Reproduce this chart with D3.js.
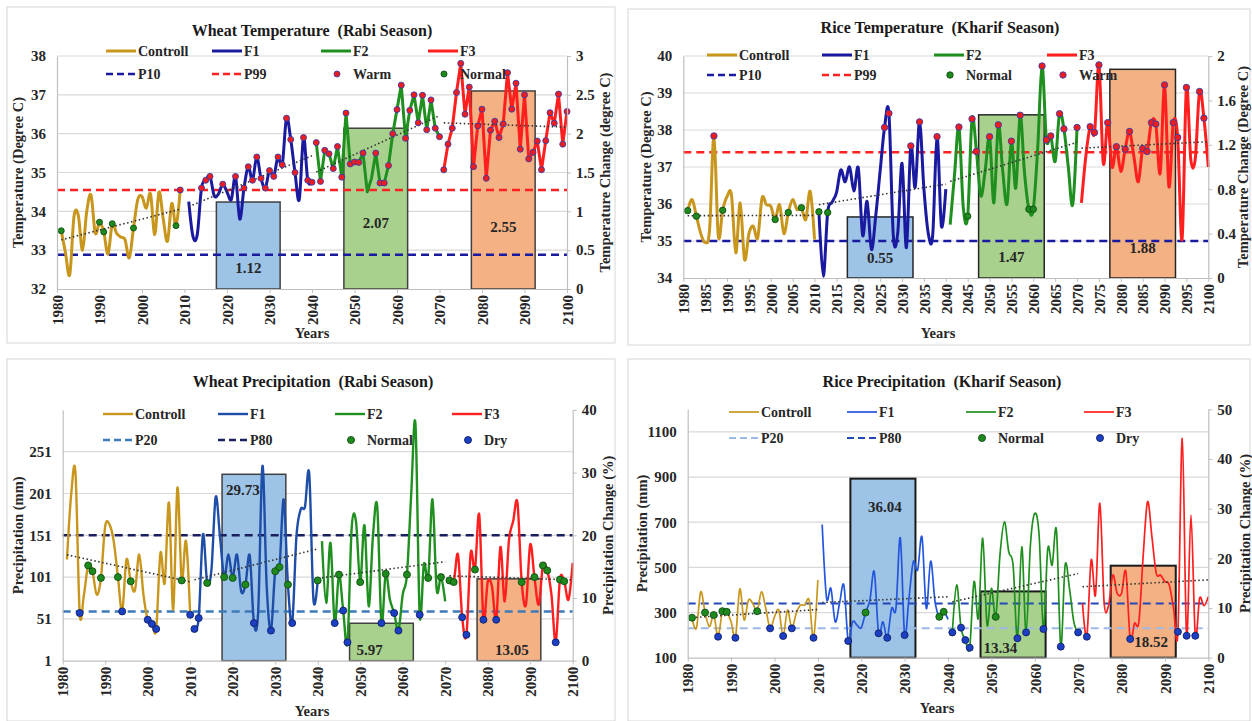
<!DOCTYPE html>
<html>
<head>
<meta charset="utf-8">
<script src="https://cdn.jsdelivr.net/npm/d3@7"></script>
<style>
  body { margin: 0; background: #fff; }
  svg { font-family: "Liberation Serif", "Times New Roman", serif; font-weight: bold; }
</style>
</head>
<body>
<svg id="chart" width="1252" height="721"></svg>
<script>
// ---- shared ----
const periodStart = [1981, 2011, 2041, 2071];
const seriesNames = ["Controll", "F1", "F2", "F3"];
const barPeriods = [[2018, 2032], [2048, 2062], [2078, 2092]];

// ---- wheat temperature (Rabi) ----
const wtControll = [33.5, 32.93, 32.37, 33.87, 33.9, 33.0, 34.0, 34.42, 33.44, 33.72, 33.47, 32.9, 33.68, 33.44, 33.34, 33.27, 32.8, 33.57, 34.3, 34.38, 34.08, 34.45, 33.4, 34.5, 33.8, 33.23, 34.2, 33.63, 34.55];
const wtF1 = [34.25, 33.35, 33.4, 34.6, 34.8, 34.9, 34.4, 34.45, 34.7, 34.5, 34.3, 34.9, 33.8, 34.6, 35.15, 34.8, 35.4, 34.85, 34.6, 35.05, 34.9, 35.4, 35.2, 36.4, 35.85, 35.0, 34.3, 35.9, 34.8, 34.75];
const wtF2 = [35.77, 34.77, 35.57, 35.48, 35.1, 35.67, 34.88, 36.53, 35.22, 35.27, 35.26, 35.5, 34.5, 34.85, 35.5, 34.73, 34.73, 35.18, 36.0, 36.62, 37.25, 35.88, 36.6, 37.0, 36.28, 36.99, 36.1, 36.87, 36.14, 35.92];
const wtF3 = [35.07, 35.73, 36.14, 37.06, 37.81, 36.5, 37.2, 35.15, 36.2, 36.63, 34.85, 36.09, 36.32, 35.9, 36.25, 37.57, 36.63, 37.3, 35.6, 37.0, 35.35, 35.52, 35.81, 35.07, 35.82, 36.54, 36.27, 37.02, 35.73, 36.57];
const wtThresholds = [32.88, 34.55];          // P10, P99
const wtChange = [1.12, 2.07, 2.55];
const wtNormalYears = [1981, 1990, 1991, 1993, 1998, 2008];
const wtWarmYears = [2009, 2014, 2015, 2016, 2019, 2022, 2024, 2025, 2026, 2027, 2028, 2029, 2030, 2031, 2032, 2033, 2034, 2035, 2036, 2038, 2039, 2040]
  .concat(d3.range(2041, 2053), d3.range(2055, 2071), d3.range(2071, 2101));

// ---- rice temperature (Kharif) ----
const rtControll = [35.82, 36.12, 35.67, 35.2, 34.96, 35.3, 37.84, 35.13, 35.83, 36.2, 36.25, 34.68, 36.03, 34.5, 35.2, 35.4, 35.08, 36.16, 35.98, 35.94, 35.58, 35.98, 35.2, 35.77, 36.12, 35.85, 35.9, 35.58, 36.34, 35.04];
const rtF1 = [35.79, 34.05, 35.77, 36.05, 36.3, 36.92, 36.6, 37.0, 36.35, 36.97, 35.15, 36.07, 34.77, 35.7, 36.9, 38.07, 38.45, 35.15, 35.2, 37.1, 34.82, 37.57, 36.45, 38.22, 36.4, 35.2, 35.15, 37.82, 35.4, 36.4];
const rtF2 = [35.44, 36.8, 38.08, 35.9, 35.67, 38.3, 37.42, 36.22, 36.9, 37.82, 36.03, 38.14, 36.9, 36.0, 37.7, 36.43, 38.4, 36.83, 35.86, 35.86, 37.5, 39.73, 37.73, 37.84, 37.15, 38.44, 38.03, 37.0, 35.98, 38.07];
const rtF3 = [36.03, 37.28, 38.09, 37.93, 39.76, 37.1, 38.2, 37.0, 37.55, 36.88, 37.48, 37.96, 37.28, 36.6, 37.5, 37.42, 38.2, 38.16, 36.83, 39.22, 36.47, 38.2, 37.8, 35.04, 39.15, 37.2, 37.2, 39.04, 38.32, 37.0];
const rtThresholds = [35.0, 37.4];            // P10, P99
const rtChange = [0.55, 1.47, 1.88];
const rtNormalYears = [1981, 1983, 1989, 2001, 2004, 2007, 2011, 2013, 2045, 2059, 2060];
const rtWarmYears = [1987, 2026, 2027, 2032, 2034, 2038, 2043, 2046, 2047, 2050, 2052, 2055, 2057, 2062, 2063, 2064, 2066, 2067, 2070,
  2073, 2074, 2075, 2077, 2079, 2081, 2082, 2085, 2086, 2087, 2088, 2090, 2092, 2093, 2095, 2098, 2099];

// ---- wheat precipitation (Rabi) ----
const wpControll = [122, 200, 226, 58, 80, 115, 108, 80, 100, 162, 164, 144, 101, 60, 122, 96, 85, 128, 80, 50, 45, 39, 130, 94, 190, 62, 208, 97, 144, 56];
const wpF1 = [39, 52, 152, 94, 110, 197, 150, 101, 128, 100, 128, 84, 92, 127, 46, 60, 234, 90, 37, 108, 113, 194, 92, 46, 150, 182, 185, 225, 74, 97];
const wpF2 = [144, 70, 142, 46, 104, 61, 23, 160, 168, 95, 163, 66, 150, 186, 46, 105, 74, 58, 37, 80, 104, 200, 284, 56, 117, 100, 194, 86, 101, 72];
const wpF3 = [97, 95, 128, 53, 32, 130, 110, 176, 50, 95, 90, 50, 137, 72, 145, 168, 190, 95, 68, 140, 101, 68, 115, 109, 80, 23, 98, 96, 74, 118];
const wpThresholds = [60, 151];               // P20, P80
const wpChange = [29.73, 5.97, 13.05];
const wpNormalYears = [1986, 1987, 1989, 1993, 1996, 2008, 2014, 2018, 2020, 2023, 2030, 2031, 2033, 2040, 2045, 2050, 2056, 2061, 2066, 2069,
  2071, 2072, 2077, 2088, 2091, 2093, 2094, 2097, 2098];
const wpDryYears = [1984, 1994, 2000, 2001, 2002, 2010, 2011, 2012, 2025, 2029, 2034, 2044, 2046, 2047, 2055, 2058, 2059, 2064,
  2074, 2075, 2079, 2082, 2096];

// ---- rice precipitation (Kharif) ----
const rpControll = [277, 230, 392, 300, 237, 289, 193, 306, 303, 259, 188, 404, 267, 355, 340, 306, 392, 318, 230, 281, 311, 196, 311, 230, 296, 333, 333, 355, 188, 444];
const rpF1 = [690, 365, 407, 259, 340, 421, 174, 259, 245, 233, 300, 355, 481, 208, 259, 188, 318, 318, 631, 200, 363, 525, 488, 635, 318, 528, 351, 281, 303, 270];
const rpF2 = [212, 422, 233, 178, 144, 437, 274, 629, 245, 407, 281, 560, 702, 569, 510, 186, 591, 212, 600, 739, 643, 227, 584, 510, 665, 149, 510, 407, 259, 212];
const rpF3 = [341, 193, 533, 378, 784, 341, 330, 466, 385, 385, 481, 183, 252, 259, 555, 791, 636, 474, 466, 437, 422, 318, 215, 1071, 197, 732, 197, 363, 330, 370];
const rpThresholds = [230, 340];              // P20, P80
const rpChange = [36.04, 13.34, 18.52];
const rpNormalYears = [1981, 1984, 1986, 1988, 1989, 1996, 2021, 2038, 2039, 2051];
const rpDryYears = [1987, 1991, 1999, 2002, 2004, 2009, 2017, 2024, 2026, 2030, 2041, 2043, 2044, 2045, 2056, 2058, 2062, 2066, 2070,
  2072, 2082, 2093, 2095, 2097];

// ---- styles ----
const barColors = ["#9dc3e6", "#a9d18e", "#f4b183"];
const dotStyle = {
  Warm: { fill: "#f01c1c", stroke: "#3a3aa8" },
  Normal: { fill: "#1e8a1e", stroke: "#104d10" },
  Dry: { fill: "#1c3fc4", stroke: "#0e1f66" }
};
const smooth = d3.curveCardinal.tension(0);

const svg = d3.select("#chart");

function drawPanel(p) {
  const g = svg.append("g");
  g.append("rect")
    .attr("x", p.frame[0]).attr("y", p.frame[1])
    .attr("width", p.frame[2]).attr("height", p.frame[3])
    .attr("fill", "#fff").attr("stroke", "#d6d6d6");

  const x = d3.scaleLinear().domain([1980, 2100]).range([p.x0, p.x1]);
  const y = d3.scaleLinear().domain(p.yDomain).range([p.y1, p.y0]);
  const y2 = d3.scaleLinear().domain(p.y2Domain).range([p.y1, p.y0]);

  // gridlines
  g.append("g").selectAll("line")
    .data(p.yTicks.filter(t => t !== p.yDomain[0]))
    .join("line")
    .attr("x1", p.x0).attr("x2", p.x1)
    .attr("y1", d => y(d)).attr("y2", d => y(d))
    .attr("stroke", "#d9d9d9").attr("stroke-width", 1.2);

  // change bars (right axis)
  g.append("g").selectAll("rect")
    .data(p.change)
    .join("rect")
    .attr("x", (d, i) => x(barPeriods[i][0] - 0.5))
    .attr("width", (d, i) => x(barPeriods[i][1] + 0.5) - x(barPeriods[i][0] - 0.5))
    .attr("y", d => y2(d))
    .attr("height", d => y2(p.y2Domain[0]) - y2(d))
    .attr("fill", (d, i) => barColors[i])
    .attr("stroke", p.barStroke).attr("stroke-width", p.barStrokeWidth);

  g.append("g").selectAll("text")
    .data(p.change)
    .join("text")
    .attr("x", (d, i) => p.barLabelAnchor[i] === "start"
      ? x(barPeriods[i][0] - 0.5) + p.barLabelDx[i]
      : (x(barPeriods[i][0] - 0.5) + x(barPeriods[i][1] + 0.5)) / 2 + p.barLabelDx[i])
    .attr("y", (d, i) => y2(p.barLabelAt[i]))
    .attr("dy", "0.35em")
    .attr("text-anchor", (d, i) => p.barLabelAnchor[i])
    .attr("font-size", 15).attr("fill", "#262626")
    .text(d => d.toFixed(2));

  // threshold lines
  g.append("g").selectAll("line")
    .data(p.thresholds)
    .join("line")
    .attr("x1", p.x0).attr("x2", p.x1)
    .attr("y1", d => y(d)).attr("y2", d => y(d))
    .attr("stroke", (d, i) => p.thresholdColors[i])
    .attr("stroke-width", p.dashWidth)
    .attr("stroke-dasharray", "8,5");

  // series lines
  const series = p.series.map((vals, i) => vals.map((v, k) => ({ year: periodStart[i] + k, v })));
  series.forEach((s, i) => {
    const line = d3.line()
      .x(d => x(d.year))
      .y(d => y(d.v))
      .curve(p.curves[i]);
    g.append("path")
      .datum(s)
      .attr("fill", "none")
      .attr("stroke", p.colors[i])
      .attr("stroke-width", p.lineWidth)
      .attr("stroke-linejoin", "round")
      .attr("d", line);
  });

  // linear trend per period
  series.forEach(s => {
    const n = s.length;
    const mx = d3.mean(s, d => d.year), my = d3.mean(s, d => d.v);
    const b = d3.sum(s, d => (d.year - mx) * (d.v - my)) / d3.sum(s, d => (d.year - mx) ** 2);
    const a = my - b * mx;
    const ends = [s[0].year, s[n - 1].year];
    g.append("line")
      .attr("x1", x(ends[0])).attr("x2", x(ends[1]))
      .attr("y1", y(a + b * ends[0])).attr("y2", y(a + b * ends[1]))
      .attr("stroke", "#333").attr("stroke-width", 1.6)
      .attr("stroke-dasharray", "1.5,2.5");
  });

  // classified points
  const lookup = new Map();
  series.forEach(s => s.forEach(d => lookup.set(d.year, d.v)));
  p.dots.forEach(dd => {
    g.append("g").selectAll("circle")
      .data(dd.years.filter(yr => lookup.has(yr)))
      .join("circle")
      .attr("cx", yr => x(yr))
      .attr("cy", yr => y(lookup.get(yr)))
      .attr("r", p.dotR)
      .attr("fill", dotStyle[dd.type].fill)
      .attr("stroke", dotStyle[dd.type].stroke)
      .attr("stroke-width", 0.9);
  });

  // axes
  const axisColor = "#bfbfbf";
  const ax = g.append("g")
    .attr("transform", `translate(0,${p.y1})`)
    .call(d3.axisBottom(x).tickValues(p.xTicks).tickSize(4).tickSizeOuter(0).tickFormat(d => String(d)));
  ax.selectAll(".tick text")
    .attr("transform", "rotate(-90)")
    .attr("text-anchor", "end")
    .attr("x", -6).attr("y", 0).attr("dy", "0.35em");

  const ay = g.append("g")
    .attr("transform", `translate(${p.x0},0)`)
    .call(d3.axisLeft(y).tickValues(p.yTicks).tickSize(0).tickSizeOuter(0).tickPadding(11).tickFormat(d => String(d)));

  const ay2 = g.append("g")
    .attr("transform", `translate(${p.x1},0)`)
    .call(d3.axisRight(y2).tickValues(p.y2Ticks).tickSize(4).tickSizeOuter(0).tickPadding(5).tickFormat(d => String(d)));

  [ax, ay, ay2].forEach(a => {
    a.select(".domain").attr("stroke", axisColor).attr("stroke-width", 1.2);
    a.selectAll(".tick line").attr("stroke", axisColor);
    a.selectAll("text")
      .attr("font-family", "Liberation Serif, Times New Roman, serif")
      .attr("font-weight", "bold")
      .attr("font-size", 15).attr("fill", "#262626");
  });

  // titles
  g.append("text")
    .attr("x", p.title[1]).attr("y", p.title[2])
    .attr("text-anchor", "middle").attr("font-size", 16).attr("fill", "#1a1a1a")
    .text(p.title[0]);
  const midY = (p.y0 + p.y1) / 2;
  g.append("text")
    .attr("transform", `translate(${p.yTitleX},${midY}) rotate(-90)`)
    .attr("text-anchor", "middle").attr("dy", "0.35em")
    .attr("font-size", 14.5).attr("fill", "#262626")
    .text(p.yTitle);
  g.append("text")
    .attr("transform", `translate(${p.y2TitleX},${midY}) rotate(-90)`)
    .attr("text-anchor", "middle").attr("dy", "0.35em")
    .attr("font-size", 14.5).attr("fill", "#262626")
    .text(p.y2Title);
  g.append("text")
    .attr("x", p.xTitle[0]).attr("y", p.xTitle[1])
    .attr("text-anchor", "middle").attr("font-size", 14.5).attr("fill", "#262626")
    .text("Years");

  // legend
  const lg = g.append("g").attr("font-size", 14).attr("fill", "#262626");
  seriesNames.forEach((name, i) => {
    const cx = p.legendCols[i], cy = p.legendRows[0];
    lg.append("line").attr("x1", cx).attr("x2", cx + 30).attr("y1", cy).attr("y2", cy)
      .attr("stroke", p.colors[i]).attr("stroke-width", p.lineWidth);
    lg.append("text").attr("x", cx + 32).attr("y", cy).attr("dy", "0.35em").text(name);
  });
  p.thresholdNames.forEach((name, i) => {
    const cx = p.legendCols[i], cy = p.legendRows[1];
    lg.append("line").attr("x1", cx).attr("x2", cx + 30).attr("y1", cy).attr("y2", cy)
      .attr("stroke", p.thresholdColors[i]).attr("stroke-width", p.dashWidth)
      .attr("stroke-dasharray", "7,4");
    lg.append("text").attr("x", cx + 32).attr("y", cy).attr("dy", "0.35em").text(name);
  });
  p.dotLegend.forEach((type, i) => {
    const cx = p.legendCols[i + 2], cy = p.legendRows[1];
    lg.append("circle").attr("cx", cx + 16).attr("cy", cy).attr("r", p.dotR)
      .attr("fill", dotStyle[type].fill).attr("stroke", dotStyle[type].stroke).attr("stroke-width", 0.9);
    lg.append("text").attr("x", cx + 32).attr("y", cy).attr("dy", "0.35em").text(type);
  });
}

drawPanel({
  frame: [7, 7, 608, 336],
  x0: 57, x1: 567, y0: 56, y1: 289,
  yDomain: [32, 38], yTicks: d3.range(32, 39),
  y2Domain: [0, 3], y2Ticks: [0, 0.5, 1, 1.5, 2, 2.5, 3],
  xTicks: d3.range(1980, 2101, 10),
  series: [wtControll, wtF1, wtF2, wtF3],
  colors: ["#c8961c", "#1a1aa0", "#1f8f1f", "#ff1f1f"],
  curves: [smooth, smooth, d3.curveLinear, d3.curveLinear],
  lineWidth: 3,
  thresholds: wtThresholds, thresholdColors: ["#1a1aa0", "#ff2020"], thresholdNames: ["P10", "P99"],
  dashWidth: 2.5,
  change: wtChange, barStroke: "#404040", barStrokeWidth: 1.5,
  barLabelAt: [0.28, 0.85, 0.8], barLabelDx: [0, 0, 0], barLabelAnchor: ["middle", "middle", "middle"],
  dots: [{ type: "Normal", years: wtNormalYears }, { type: "Warm", years: wtWarmYears }],
  dotLegend: ["Warm", "Normal"],
  dotR: 3,
  title: ["Wheat Temperature\u00a0 (Rabi Season)", 312, 36],
  yTitle: "Temperature (Degree C)", yTitleX: 18,
  y2Title: "Temperature Change (degree C)", y2TitleX: 605,
  xTitle: [312, 338],
  legendCols: [106, 212, 321, 428], legendRows: [51, 74]
});

drawPanel({
  frame: [628, 9, 622, 336],
  x0: 683.3, x1: 1208.3, y0: 56, y1: 278,
  yDomain: [34, 40], yTicks: d3.range(34, 41),
  y2Domain: [0, 2], y2Ticks: [0, 0.4, 0.8, 1.2, 1.6, 2],
  xTicks: d3.range(1980, 2101, 5),
  series: [rtControll, rtF1, rtF2, rtF3],
  colors: ["#c8961c", "#1a1aa0", "#1f8f1f", "#ff1f1f"],
  curves: [smooth, smooth, smooth, smooth],
  lineWidth: 3,
  thresholds: rtThresholds, thresholdColors: ["#1a1aa0", "#ff2020"], thresholdNames: ["P10", "P99"],
  dashWidth: 2.5,
  change: rtChange, barStroke: "#262626", barStrokeWidth: 1.5,
  barLabelAt: [0.18, 0.19, 0.27], barLabelDx: [0, 0, 0], barLabelAnchor: ["middle", "middle", "middle"],
  dots: [{ type: "Normal", years: rtNormalYears }, { type: "Warm", years: rtWarmYears }],
  dotLegend: ["Normal", "Warm"],
  dotR: 3.2,
  title: ["Rice Temperature\u00a0 (Kharif Season)", 940, 33],
  yTitle: "Temperature (Degree C)", yTitleX: 646,
  y2Title: "Temperature Change (Degree C)", y2TitleX: 1243,
  xTitle: [938, 338],
  legendCols: [707, 822, 934, 1047], legendRows: [55, 75]
});

drawPanel({
  frame: [7, 359, 608, 362],
  x0: 62.7, x1: 572.7, y0: 409.9, y1: 660.7,
  yDomain: [1, 301], yTicks: [1, 51, 101, 151, 201, 251],
  y2Domain: [0, 40], y2Ticks: [0, 10, 20, 30, 40],
  xTicks: d3.range(1980, 2101, 10),
  series: [wpControll, wpF1, wpF2, wpF3],
  colors: ["#c8961c", "#1f4ea8", "#1f8f1f", "#ff1f1f"],
  curves: [smooth, smooth, smooth, smooth],
  lineWidth: 2.4,
  thresholds: wpThresholds, thresholdColors: ["#3d7ab8", "#1b1f5e"], thresholdNames: ["P20", "P80"],
  dashWidth: 2.5,
  change: wpChange, barStroke: "#404040", barStrokeWidth: 1.5,
  barLabelAt: [27.2, 1.7, 1.7], barLabelDx: [4, 7, 3], barLabelAnchor: ["start", "start", "middle"],
  dots: [{ type: "Normal", years: wpNormalYears }, { type: "Dry", years: wpDryYears }],
  dotLegend: ["Normal", "Dry"],
  dotR: 3.5,
  title: ["Wheat Precipitation\u00a0 (Rabi Season)", 313, 387],
  yTitle: "Precipitation (mm)", yTitleX: 18,
  y2Title: "Precipitation Change (%)", y2TitleX: 608,
  xTitle: [312, 716],
  legendCols: [103, 218, 335, 452], legendRows: [414, 440]
});

drawPanel({
  frame: [628, 359, 622, 362],
  x0: 687.7, x1: 1208.3, y0: 409.3, y1: 657.7,
  yDomain: [100, 1200], yTicks: [100, 300, 500, 700, 900, 1100],
  y2Domain: [0, 50], y2Ticks: [0, 10, 20, 30, 40, 50],
  xTicks: d3.range(1980, 2101, 10),
  series: [rpControll, rpF1, rpF2, rpF3],
  colors: ["#c8961c", "#2456dc", "#1f8f1f", "#ff1f1f"],
  curves: [smooth, smooth, smooth, smooth],
  lineWidth: 1.7,
  thresholds: rpThresholds, thresholdColors: ["#9db9e8", "#2448b8"], thresholdNames: ["P20", "P80"],
  dashWidth: 2,
  change: rpChange, barStroke: "#1a1a1a", barStrokeWidth: 2,
  barLabelAt: [30.4, 2.0, 3.2], barLabelDx: [2, 3, 8], barLabelAnchor: ["middle", "start", "middle"],
  dots: [{ type: "Normal", years: rpNormalYears }, { type: "Dry", years: rpDryYears }],
  dotLegend: ["Normal", "Dry"],
  dotR: 3.5,
  title: ["Rice Precipitation\u00a0 (Kharif Season)", 942, 387],
  yTitle: "Precipitation (mm)", yTitleX: 642,
  y2Title: "Precipitation Change (%)", y2TitleX: 1245,
  xTitle: [937, 713],
  legendCols: [729, 847, 966, 1084], legendRows: [412, 438]
});
</script>
</body>
</html>
